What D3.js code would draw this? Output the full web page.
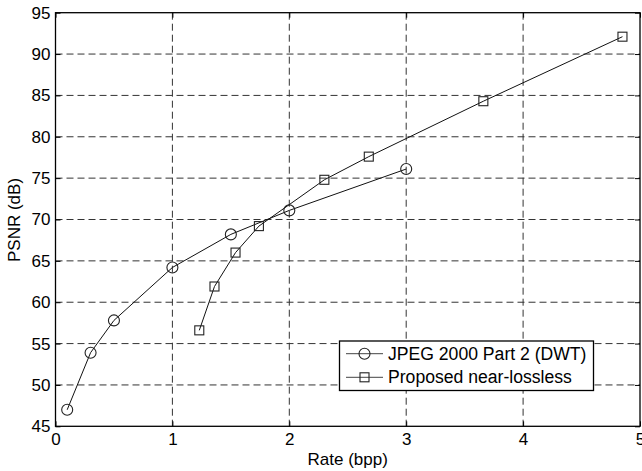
<!DOCTYPE html>
<html lang="en">
<head>
    <meta charset="UTF-8">
    <title>PSNR vs Rate</title>
    <script src="https://cdnjs.cloudflare.com/ajax/libs/d3/7.6.1/d3.min.js"></script>
    <style>
        body {
            margin: 0;
            background: #fff;
        }
        svg text {
            font-family: "Liberation Sans", Arial, sans-serif;
            font-size: 17px;
            fill: #000;
        }
    </style>
</head>
<body>
    <div id="chart"></div>

    <script>
        // Data
        const xTicks = [0, 1, 2, 3, 4, 5];
        const yTicks = [45, 50, 55, 60, 65, 70, 75, 80, 85, 90, 95];

        const rateJpeg = [0.1, 0.3, 0.5, 1.0, 1.5, 2.0, 3.0];
        const psnrJpeg = [47.0, 53.9, 57.8, 64.2, 68.2, 71.1, 76.1];

        const rateProp = [1.23, 1.36, 1.54, 1.74, 2.30, 2.68, 3.66, 4.85];
        const psnrProp = [56.6, 61.9, 66.0, 69.2, 74.8, 77.6, 84.3, 92.1];

        const seriesNames = ["JPEG 2000 Part 2 (DWT)", "Proposed near-lossless"];

        const width = 642, height = 471;
        const mLeft = 55.5, mRight = 640, mTop = 12.7, mBottom = 426.3;

        const svg = d3.select("#chart")
            .append("svg")
            .attr("width", width)
            .attr("height", height);

        const x = d3.scaleLinear().domain([0, 5]).range([mLeft, mRight]);
        const y = d3.scaleLinear().domain([45, 95]).range([mBottom, mTop]);

        // Grid (dashed)
        const grid = svg.append("g")
            .attr("stroke", "#333")
            .attr("stroke-width", 1)
            .attr("stroke-dasharray", "7,4");

        grid.selectAll("line.gx")
            .data(xTicks.slice(1, -1))
            .enter()
            .append("line")
            .attr("x1", d => x(d)).attr("x2", d => x(d))
            .attr("y1", mTop).attr("y2", mBottom);

        grid.selectAll("line.gy")
            .data(yTicks.slice(1, -1))
            .enter()
            .append("line")
            .attr("x1", mLeft).attr("x2", mRight)
            .attr("y1", d => y(d)).attr("y2", d => y(d));

        // Axes with inward ticks
        const tick = 5;
        svg.append("g")
            .attr("transform", `translate(0,${mBottom})`)
            .call(d3.axisBottom(x).tickValues(xTicks).tickFormat(d3.format("d"))
                .tickSizeInner(-tick).tickSizeOuter(0).tickPadding(7));
        svg.append("g")
            .attr("transform", `translate(${mLeft},0)`)
            .call(d3.axisLeft(y).tickValues(yTicks).tickFormat(d3.format("d"))
                .tickSizeInner(-tick).tickSizeOuter(0).tickPadding(5));
        svg.append("g")
            .attr("transform", `translate(0,${mTop})`)
            .call(d3.axisTop(x).tickValues(xTicks).tickFormat("")
                .tickSizeInner(-tick).tickSizeOuter(0));
        svg.append("g")
            .attr("transform", `translate(${mRight},0)`)
            .call(d3.axisRight(y).tickValues(yTicks).tickFormat("")
                .tickSizeInner(-tick).tickSizeOuter(0));

        svg.selectAll(".domain").remove();
        svg.selectAll(".tick line").attr("stroke", "#000");
        svg.selectAll("g[font-size]")
            .attr("font-size", null)
            .attr("font-family", null);

        // Box
        svg.append("rect")
            .attr("x", mLeft).attr("y", mTop)
            .attr("width", mRight - mLeft).attr("height", mBottom - mTop)
            .attr("fill", "none")
            .attr("stroke", "#000")
            .attr("stroke-width", 1.3);

        // Axis labels
        svg.append("text")
            .attr("x", (mLeft + mRight) / 2)
            .attr("y", 465)
            .attr("text-anchor", "middle")
            .text("Rate (bpp)");

        svg.append("text")
            .attr("transform", "translate(20,220) rotate(-90)")
            .attr("text-anchor", "middle")
            .text("PSNR (dB)");

        // Series
        const line = d3.line().x(d => x(d[0])).y(d => y(d[1]));
        const jpegPts = rateJpeg.map((r, i) => [r, psnrJpeg[i]]);
        const propPts = rateProp.map((r, i) => [r, psnrProp[i]]);

        [jpegPts, propPts].forEach(pts => {
            svg.append("path")
                .datum(pts)
                .attr("d", line)
                .attr("fill", "none")
                .attr("stroke", "#111")
                .attr("stroke-width", 1);
        });

        const circleR = 5.5;
        const sq = 9;

        svg.append("g")
            .selectAll("circle")
            .data(jpegPts)
            .enter()
            .append("circle")
            .attr("cx", d => x(d[0]))
            .attr("cy", d => y(d[1]))
            .attr("r", circleR)
            .attr("fill", "none")
            .attr("stroke", "#222")
            .attr("stroke-width", 1.1);

        svg.append("g")
            .selectAll("rect")
            .data(propPts)
            .enter()
            .append("rect")
            .attr("x", d => x(d[0]) - sq / 2)
            .attr("y", d => y(d[1]) - sq / 2)
            .attr("width", sq)
            .attr("height", sq)
            .attr("fill", "none")
            .attr("stroke", "#222")
            .attr("stroke-width", 1.1);

        // Legend
        const lg = svg.append("g");
        lg.append("rect")
            .attr("x", 339.5).attr("y", 341)
            .attr("width", 254).attr("height", 49.5)
            .attr("fill", "#fff")
            .attr("stroke", "#000")
            .attr("stroke-width", 1.3);

        const rows = [353.7, 377.3];
        seriesNames.forEach((name, i) => {
            const ry = rows[i];
            lg.append("line")
                .attr("x1", 346).attr("x2", 383)
                .attr("y1", ry).attr("y2", ry)
                .attr("stroke", "#444")
                .attr("stroke-width", 1);
            if (i === 0) {
                lg.append("circle")
                    .attr("cx", 364.5).attr("cy", ry)
                    .attr("r", circleR)
                    .attr("fill", "none")
                    .attr("stroke", "#222")
                    .attr("stroke-width", 1.1);
            } else {
                lg.append("rect")
                    .attr("x", 364.5 - sq / 2).attr("y", ry - sq / 2)
                    .attr("width", sq).attr("height", sq)
                    .attr("fill", "none")
                    .attr("stroke", "#222")
                    .attr("stroke-width", 1.1);
            }
            lg.append("text")
                .attr("x", 388)
                .attr("y", ry)
                .attr("dy", "0.35em")
                .style("font-size", "17.6px")
                .text(name);
        });
    </script>
</body>
</html>
